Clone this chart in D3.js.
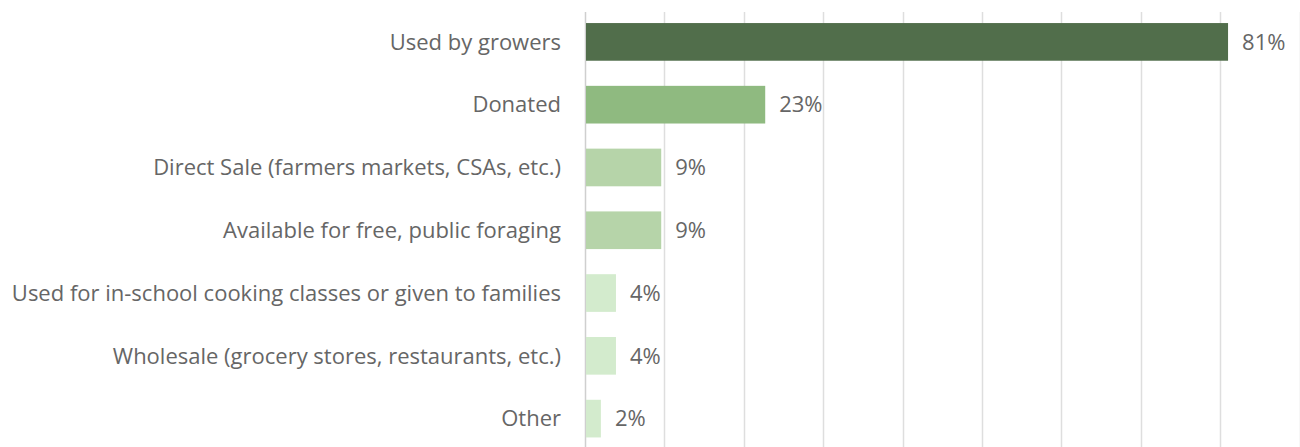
<!DOCTYPE html>
<html><head><meta charset="utf-8">
<script src="https://cdn.jsdelivr.net/npm/d3@7"></script>
<style>body{margin:0;background:#fff}text{font-family:"Open Sans",sans-serif}</style>
</head><body>
<svg id="c" width="1300" height="447"></svg>
<script>
const categories = ["Used by growers","Donated","Direct Sale (farmers markets, CSAs, etc.)","Available for free, public foraging","Used for in-school cooking classes or given to families","Wholesale (grocery stores, restaurants, etc.)","Other"];
const values = [81,22.7,9.6,9.6,3.9,3.9,2];
const valueLabels = ["81%","23%","9%","9%","4%","4%","2%"];
const colors = ["#516e4b","#8fba80","#b6d4a9","#b6d4a9","#d3ebcd","#d3ebcd","#d3ebcd"];
const ticks = [0,10,20,30,40,50,60,70,80,90];

const svg = d3.select("#c");
const x = d3.scaleLinear().domain([0,90]).range([585,1299.5]);
const y = d3.scaleBand().domain(categories).range([10.5,450]).paddingInner(0.4).paddingOuter(0.2);

svg.append("g").selectAll("line").data(ticks).join("line")
  .attr("x1",d=>Math.round(x(d))+0.5).attr("x2",d=>Math.round(x(d))+0.5)
  .attr("y1",12).attr("y2",447)
  .attr("stroke",d=>d===0?"#cfcfcf":"#dedede").attr("stroke-width",1.5);

svg.append("g").selectAll("rect").data(categories).join("rect")
  .attr("x",x(0)+1).attr("y",d=>y(d)).attr("height",y.bandwidth())
  .attr("width",(d,i)=>x(values[i])-x(0)-1).attr("fill",(d,i)=>colors[i]);

svg.append("g").selectAll("text").data(categories).join("text")
  .attr("x",561).attr("y",d=>y(d)+y.bandwidth()/2).attr("dy","0.35em")
  .attr("text-anchor","end").attr("font-size",22).attr("fill","#666").text(d=>d);

svg.append("g").selectAll("text").data(categories).join("text")
  .attr("x",(d,i)=>x(values[i])+14).attr("y",d=>y(d)+y.bandwidth()/2).attr("dy","0.35em")
  .attr("font-size",22).attr("fill","#666").text((d,i)=>valueLabels[i]);
</script>
</body></html>
